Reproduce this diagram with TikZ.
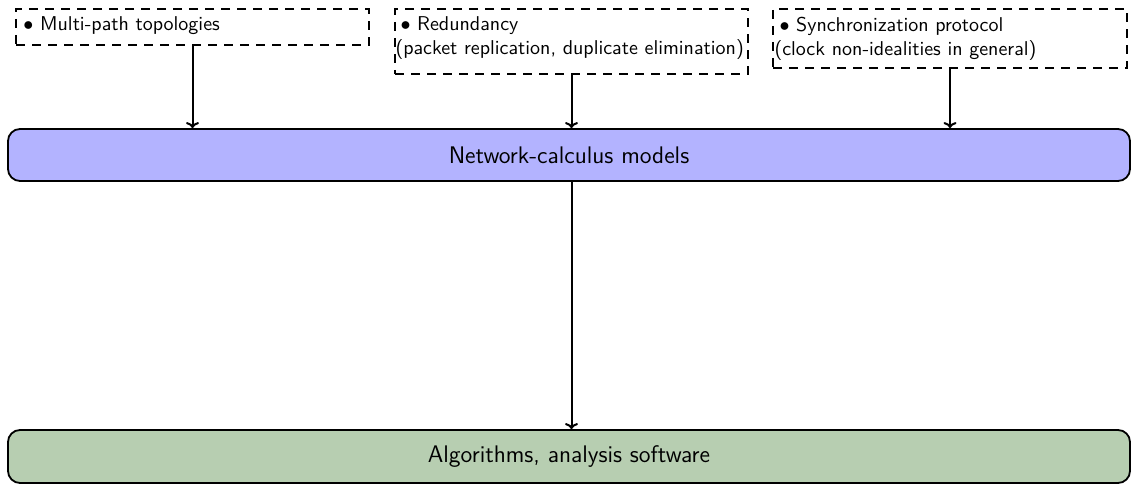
\documentclass[tikz,border=0pt]{standalone}
\usetikzlibrary{calc,arrows.meta}
\definecolor{boxblue}{RGB}{179,179,255}
\definecolor{boxgreen}{RGB}{183,206,177}
\begin{document}
\begin{tikzpicture}[x=0.5pt,y=-0.5pt,
  every node/.style={font=\sffamily},
  dbox/.style={draw, line width=0.9pt, dash pattern=on 4.5pt off 3.5pt, inner sep=0pt},
  mainbox/.style={draw, line width=0.9pt, rounded corners=6pt, inner sep=0pt, font=\sffamily\large, minimum width=561pt},
  txt/.style={anchor=base west, align=left, inner sep=0pt},
  arr/.style={-{To[length=3pt,width=6.5pt]}, line width=1pt}]
\useasboundingbox (0,0) rectangle (1131,485);
% top dashed boxes
\node[dbox, minimum width=176.5pt, minimum height=18pt] (b1) at (192.5,27) {};
\node[dbox, minimum width=176.5pt, minimum height=32.5pt] (b2) at (571.5,41.5) {};
\node[dbox, minimum width=177pt, minimum height=29.5pt] (b3) at (950,38.5) {};
\node[txt] (t1) at ($(b1.north west)+(8,22.5)$) {$\bullet$ Multi-path topologies};
\node[txt] (t2) at ($(b2.north west)+(1,46.5)$) {\hspace{2.5pt}$\bullet$ Redundancy\\(packet replication, duplicate elimination)};
\node[txt] (t3) at ($(b3.north west)+(2,47)$) {\hspace{2.5pt}$\bullet$ Synchronization protocol\\(clock non-idealities in general)};
% main boxes
\node[mainbox, fill=boxblue, minimum height=26pt] (nc) at (569,155) {Network-calculus models};
\node[mainbox, fill=boxgreen, minimum height=26.5pt] (alg) at (569,456.5) {Algorithms, analysis software};
% connectors
\draw[arr] (b1.south) -- (b1.south |- nc.north);
\draw[arr] (b2.south) -- (b2.south |- nc.north);
\draw[arr] (b3.south) -- (b3.south |- nc.north);
\draw[arr] (b2.south |- nc.south) -- (b2.south |- alg.north);
\end{tikzpicture}
\end{document}
